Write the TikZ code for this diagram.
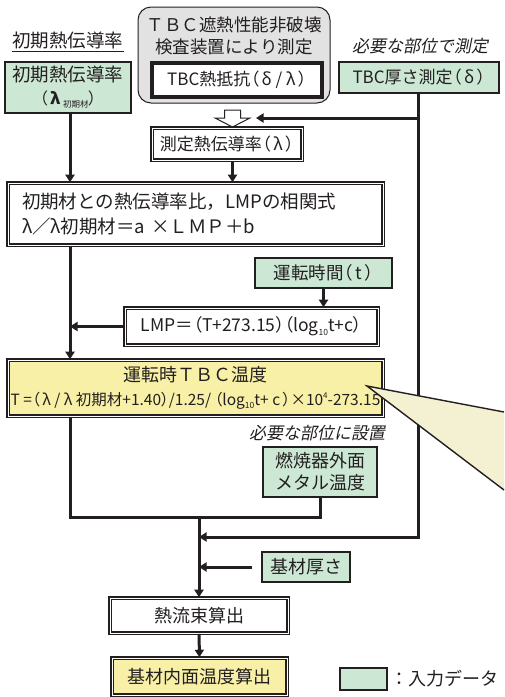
\documentclass[tikz,border=0pt]{standalone}
\usepackage{fontspec}
\setmainfont{Noto Sans CJK JP}
\newfontfamily\pfont[RawFeature=+palt]{Noto Sans CJK JP}
\newfontfamily\itjp[FakeSlant=0.2]{Noto Sans CJK JP}
\usetikzlibrary{arrows.meta,calc}
\definecolor{ink}{HTML}{231F20}
\definecolor{ingreen}{HTML}{CCE8D4}
\definecolor{calcyellow}{HTML}{F7F0A6}
\definecolor{callfill}{HTML}{F4F1D2}
\definecolor{grayfill}{HTML}{E2E2E2}
\newcommand\lpar{{\pfont （}}
\newcommand\rpar{{\pfont ）}}
\newcommand\lowsub[1]{\raisebox{-0.35ex}{\fontsize{8.5pt}{8.5pt}\selectfont #1}}
\newcommand\upsup[1]{\raisebox{0.9ex}{\fontsize{8pt}{8pt}\selectfont #1}}
\newcommand\setfs[2]{\fontsize{#1pt}{#2pt}\selectfont}
\begin{document}
\begin{tikzpicture}[x=1pt,y=-1pt,
  flow/.style={draw=ink, line width=3pt},
  arr/.style={flow, -{Triangle[length=7.5pt,width=9pt]}},
  inbox/.style={draw=ink, fill=ingreen, line width=1.3pt, inner sep=0pt, align=center, text=ink},
  proc/.style={draw=ink, line width=1.6pt, double=white, double distance=0.9pt, fill=white, inner sep=0pt, align=center, text=ink},
  procy/.style={proc, fill=calcyellow},
  heavy/.style={draw=ink, line width=3.2pt, fill=white, inner sep=0pt, align=center, text=ink},
  plain/.style={inner sep=0pt, align=center, text=ink},
  slanted/.style={inner sep=0pt, text=ink, font=\itjp\setfs{17}{20}}
]
\useasboundingbox (0,0) rectangle (504,697);
\fill[white] (0,0) rectangle (504,697);

% column coordinates
\coordinate (cL) at (70,0);
\coordinate (cR) at (418,0);
\coordinate (cM) at (199,0);
\coordinate (cmid) at (232.5,0);

% top-left
\node[plain, font=\setfs{18.5}{22}] (ttl) at (68,40) {初期熱伝導率};
\draw[ink, line width=1pt] ([yshift=-3pt]ttl.south west) -- ([yshift=-3pt]ttl.south east);
\node[inbox, minimum width=126, minimum height=51, font=\setfs{18.5}{23}] (g1) at (68,87.5)
  {初期熱伝導率\\{\setfs{16}{16}\lpar\,\textbf{λ}\,\lowsub{初期材}\rpar}};

% gray measurement box
\node[draw=ink, fill=grayfill, line width=1pt, rounded corners=13pt, minimum width=192, minimum height=96, inner sep=0pt] (gry) at (234,55) {};
\node[plain, font=\setfs{17.5}{22}] (gryt) at (234,36) {ＴＢＣ遮熱性能非破壊\\検査装置により測定};
\node[heavy, minimum width=170, minimum height=34, font=\setfs{17}{20}] (res) at (237,80) {TBC熱抵抗\lpar\,\textit{δ} / \textit{λ}\,\rpar};

% right top
\node[slanted] (need1) at (420,46) {必要な部位で測定};
\node[inbox, minimum width=160, minimum height=31, font=\setfs{17}{20}] (g2) at (419,77.5) {TBC厚さ測定\lpar\,\textit{δ}\,\rpar};

% hollow arrow
\draw[ink, line width=1pt, fill=white] (224.5,110) -- (240.5,110) -- (240.5,118) -- (250,118) -- (232.5,127) -- (215,118) -- (224.5,118) -- cycle;
\coordinate (hh) at (256,118);

\node[proc, minimum width=150, minimum height=32, font=\setfs{17}{20}] (meas) at (227,144) {測定熱伝導率\lpar\,λ\,\rpar};

\node[proc, text width=347, inner xsep=14pt, minimum height=62, align=left, font=\setfs{18.5}{25}] (big) at (195.5,214)
  {初期材との熱伝導率比，LMPの相関式\\λ／λ初期材＝a ×ＬＭＰ＋b};

\node[inbox, minimum width=137, minimum height=30, font=\setfs{17.5}{20}] (tbox) at (323.5,273) {運転時間\lpar\,t\,\rpar};
\node[proc, minimum width=253, minimum height=37, font=\setfs{17.5}{20}] (lmp) at (251.5,326.5)
  {LMP＝\lpar T+273.15\rpar\lpar log\lowsub{10}t+c\rpar};

\node[procy, minimum width=375, minimum height=56, font=\setfs{18}{24}] (yel) at (195.5,388)
  {運転時ＴＢＣ温度\\\setfs{15.5}{24}T =\lpar\,λ / λ 初期材+1.40\rpar/1.25/ \lpar log\lowsub{10}t+ c\,\rpar×10\upsup{4}-273.15};

\node[slanted] (need2) at (317,433) {必要な部位に設置};
\node[inbox, minimum width=114, minimum height=50, font=\setfs{18}{22}] (burner) at (320,472) {燃焼器外面\\メタル温度};

\node[inbox, minimum width=88, minimum height=30, font=\setfs{18}{20}] (kiz) at (306,567) {基材厚さ};
\node[proc, minimum width=178, minimum height=35, font=\setfs{18}{20}] (flux) at (199,615.5) {熱流束算出};
\node[procy, minimum width=175, minimum height=37, font=\setfs{18}{20}] (out) at (199.5,676.5) {基材内面温度算出};

% legend
\node[inbox, minimum width=47, minimum height=22] (leg) at (363.5,679) {};
\node[plain, anchor=west, font=\setfs{18}{20}] (legt) at ([xshift=3pt]leg.east) {：入力データ};

% junctions
\coordinate (jt) at (418,118);
\coordinate (jb) at (199,517);
\coordinate (jm) at (199,537);

% connectors
\draw[arr] (g1.south -| cL) -- (big.north -| cL);
\draw[arr] (meas.south -| cmid) -- (big.north -| cmid);
\draw[arr] (tbox.south) -- (lmp.north -| tbox.south);
\draw[arr] (lmp.west) -- (lmp.west -| cL);
\draw[arr] (big.south -| cL) -- (yel.north -| cL);
\draw[flow] (yel.south -| cL) -- (cL |- jb) -- (burner.south |- jb) -- (burner.south);
\draw[arr] (jb) -- (flux.north);
\draw[arr] (g2.south -| cR) |- (jm);
\draw[arr] (jt) -- (hh);
\draw[arr, shorten <=9pt] (kiz.west) -- (kiz.west -| cM);
\draw[arr] (flux.south) -- (out.north);

% callout
\fill[callfill] (367,386) -- (504,412) -- (504,490) -- cycle;
\draw[ink, line width=1.4pt, line join=miter] (504,412) -- (367,386) -- (504,490);
\end{tikzpicture}
\end{document}
